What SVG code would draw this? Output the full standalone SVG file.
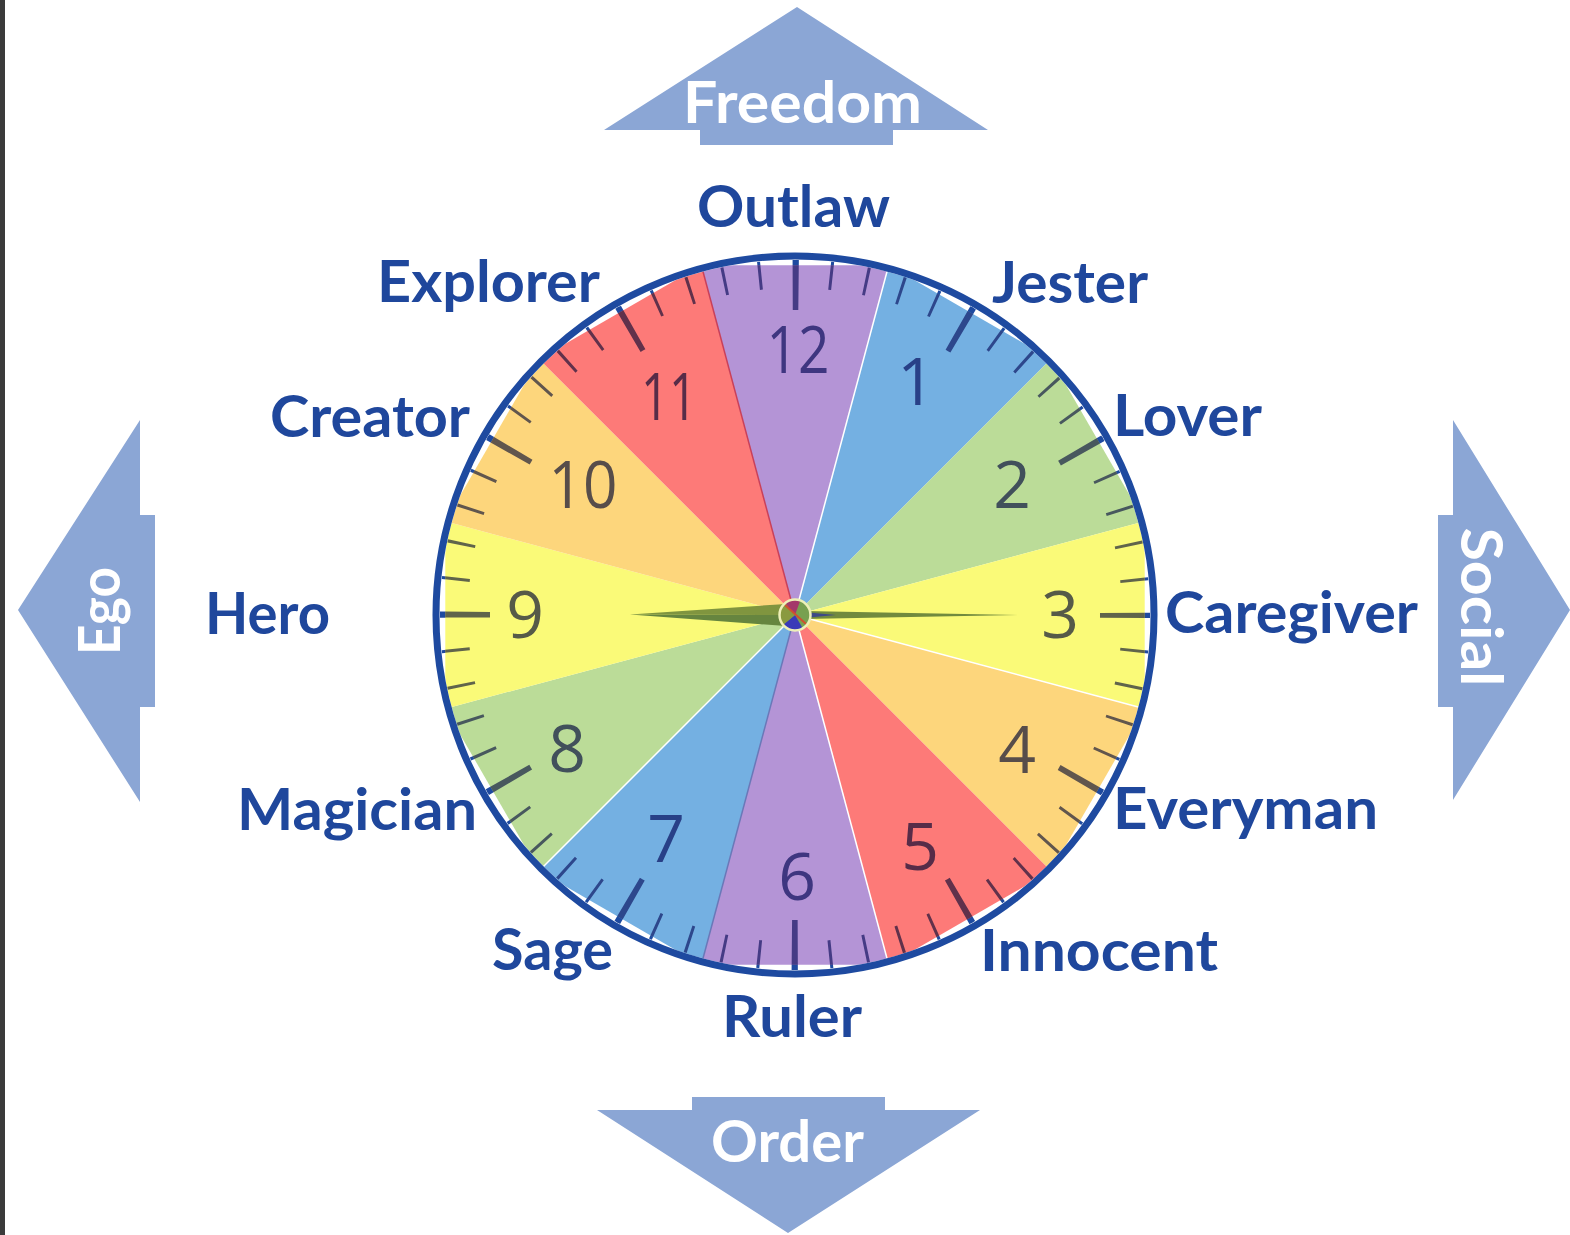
<svg xmlns="http://www.w3.org/2000/svg" xmlns:xlink="http://www.w3.org/1999/xlink" width="1570" height="1235" viewBox="0 0 1570 1235">
<style>
.arrow{fill:#8ba6d5}
.atxt{font-family:Lato,"Open Sans","Liberation Sans",sans-serif;font-weight:700;font-size:57px;fill:#ffffff}
.lbl{font-family:Lato,"Open Sans","Liberation Sans",sans-serif;font-weight:700;font-size:57px;fill:#1f479c}
.num{font-family:"Open Sans",Lato,"Liberation Sans",sans-serif;font-weight:400;font-size:66px;fill:#585c98;text-anchor:middle}
.mt{fill:none;stroke-width:28;stroke-dasharray:3 32.708;stroke-dashoffset:1.5}
.ht{fill:none;stroke-width:50;stroke-dasharray:6 166.788;stroke-dashoffset:3}
.sep{stroke-width:1.5;fill:none}
</style>
<defs>
<clipPath id="face"><circle cx="795" cy="615" r="355.5"/></clipPath>
<clipPath id="poly"><polygon points="888.7,265.3 1051,359 1144.7,521.3 1144.7,708.7 1051,871 888.7,964.7 701.3,964.7 539,871 445.3,708.7 445.3,521.3 539,359 701.3,265.3"/></clipPath>
</defs>
<rect x="0" y="0" width="1570" height="1235" fill="#ffffff"/>
<rect x="0" y="0" width="5" height="1235" fill="#3b3b3b"/>

<g id="arrow-freedom">
<polygon class="arrow" points="797,7 988,130 893,130 893,145 700,145 700,130 604,130"/>
<text class="atxt" x="683" y="123" textLength="239" lengthAdjust="spacingAndGlyphs">Freedom</text>
</g>
<g id="arrow-order">
<polygon class="arrow" points="692,1097 885,1097 885,1110 980,1110 788,1233 597,1110 692,1110"/>
<text class="atxt" x="711" y="1162" textLength="153" lengthAdjust="spacingAndGlyphs">Order</text>
</g>
<g id="arrow-ego">
<polygon class="arrow" points="140,420 140,515 155,515 155,707 140,707 140,802 18,610"/>
<text class="atxt" transform="translate(120,611) rotate(-90)" x="0" y="0" text-anchor="middle" textLength="88" lengthAdjust="spacingAndGlyphs">Ego</text>
</g>
<g id="arrow-social">
<polygon class="arrow" points="1453,420 1570,610 1453,800 1453,707 1438,707 1438,515 1453,515"/>
<text class="atxt" transform="translate(1461,607) rotate(90)" x="0" y="0" text-anchor="middle" textLength="159" lengthAdjust="spacingAndGlyphs">Social</text>
</g>

<g id="clock">
<g id="ticks-base" stroke="#1e4aa0">
<circle class="mt" cx="795" cy="615" r="341"/>
<circle class="ht" cx="795" cy="615" r="330"/>
</g>
<g id="wedges" clip-path="url(#face)">
<polygon fill="#b494d6" points="795,615 701.3,265.3 888.7,265.3"/>
<polygon fill="#74b0e2" points="795,615 888.7,265.3 1051,359"/>
<polygon fill="#bbdc98" points="795,615 1051,359 1144.7,521.3"/>
<polygon fill="#fafa78" points="795,615 1144.7,521.3 1144.7,708.7"/>
<polygon fill="#fdd67c" points="795,615 1144.7,708.7 1051,871"/>
<polygon fill="#fd7a78" points="795,615 1051,871 888.7,964.7"/>
<polygon fill="#b494d6" points="795,615 888.7,964.7 701.3,964.7"/>
<polygon fill="#74b0e2" points="795,615 701.3,964.7 539,871"/>
<polygon fill="#bbdc98" points="795,615 539,871 445.3,708.7"/>
<polygon fill="#fafa78" points="795,615 445.3,708.7 445.3,521.3"/>
<polygon fill="#fdd67c" points="795,615 445.3,521.3 539,359"/>
<polygon fill="#fd7a78" points="795,615 539,359 701.3,265.3"/>
<line class="sep" stroke="#ffffff" x1="795" y1="615" x2="888.7" y2="265.3"/>
<line class="sep" stroke="#ffffff" x1="795" y1="615" x2="888.7" y2="964.7"/>
<line class="sep" stroke="#ffffff" x1="795" y1="615" x2="1144.7" y2="708.7"/>
<line class="sep" stroke="#ffffff" x1="795" y1="615" x2="539" y2="871"/>
<line class="sep" stroke="#c8405a" x1="795" y1="615" x2="701.3" y2="265.3"/>
<line class="sep" stroke="#6a78b8" stroke-width="1" x1="795" y1="615" x2="701.3" y2="964.7"/>
</g>
<g id="ticks-tint" clip-path="url(#poly)" style="mix-blend-mode:multiply" stroke="#62669e">
<circle class="mt" cx="795" cy="615" r="341"/>
<circle class="ht" cx="795" cy="615" r="330"/>
</g>
<g id="numbers" style="mix-blend-mode:multiply">
<text class="num" x="798" y="373" textLength="63" lengthAdjust="spacingAndGlyphs">12</text>
<text class="num" x="916" y="405">1</text>
<text class="num" x="1012" y="508">2</text>
<text class="num" x="1060" y="638">3</text>
<text class="num" x="1017" y="773">4</text>
<text class="num" x="920" y="870">5</text>
<text class="num" x="797" y="900">6</text>
<text class="num" x="666" y="862">7</text>
<text class="num" x="567" y="772">8</text>
<text class="num" x="525" y="638">9</text>
<text class="num" x="583" y="508" textLength="69" lengthAdjust="spacingAndGlyphs">10</text>
<text class="num" x="669" y="420" textLength="56" lengthAdjust="spacingAndGlyphs">11</text>
</g>
<circle id="rim" cx="795" cy="615" r="359" fill="none" stroke="#1e4aa0" stroke-width="7"/>
<g id="hands">
<polygon fill="#80953f" points="630,614.5 786,604 800,615"/>
<polygon fill="#66853f" points="630,614.5 800,615 786,626"/>
<polygon fill="#718a3e" points="803,611 1022,615 803,619"/>
<polygon fill="#3e4a88" points="803,612 836,615 803,618"/>
</g>
<g id="hub">
<circle cx="795" cy="615" r="15" fill="#78a050"/>
<path d="M795,615 L785.4,603.5 A15,15 0 0 1 800.1,600.9 Z" fill="#a4386a"/>
<path d="M795,615 L802.5,628 A15,15 0 0 1 783.5,624.6 Z" fill="#3a3ab8"/>
<path d="M795,615 L783.5,624.6 A15,15 0 0 1 785.4,603.5 Z" fill="#8a9a40"/>
<line x1="785" y1="605" x2="806" y2="624" stroke="#d05030" stroke-width="2"/>
<circle cx="795" cy="615" r="15.5" fill="none" stroke="#eef0b8" stroke-width="2.5"/>
</g>
</g>

<g id="labels">
<text id="outlaw" class="lbl" x="697" y="227" textLength="193" lengthAdjust="spacingAndGlyphs">Outlaw</text>
<text id="explorer" class="lbl" x="377" y="302" textLength="223" lengthAdjust="spacingAndGlyphs">Explorer</text>
<text id="jester" class="lbl" x="992" y="303" textLength="156" lengthAdjust="spacingAndGlyphs">Jester</text>
<text id="lover" class="lbl" x="1113" y="436" textLength="149" lengthAdjust="spacingAndGlyphs">Lover</text>
<text id="creator" class="lbl" x="270" y="437" textLength="200" lengthAdjust="spacingAndGlyphs">Creator</text>
<text id="hero" class="lbl" x="205" y="634" textLength="125" lengthAdjust="spacingAndGlyphs">Hero</text>
<text id="caregiver" class="lbl" x="1165" y="633" textLength="253" lengthAdjust="spacingAndGlyphs">Caregiver</text>
<text id="magician" class="lbl" x="237" y="830" textLength="240" lengthAdjust="spacingAndGlyphs">Magician</text>
<text id="everyman" class="lbl" x="1113" y="829" textLength="265" lengthAdjust="spacingAndGlyphs">Everyman</text>
<text id="sage" class="lbl" x="492" y="970" textLength="121" lengthAdjust="spacingAndGlyphs">Sage</text>
<text id="ruler" class="lbl" x="722" y="1037" textLength="140" lengthAdjust="spacingAndGlyphs">Ruler</text>
<text id="innocent" class="lbl" x="980" y="971" textLength="238" lengthAdjust="spacingAndGlyphs">Innocent</text>
</g>
</svg>
